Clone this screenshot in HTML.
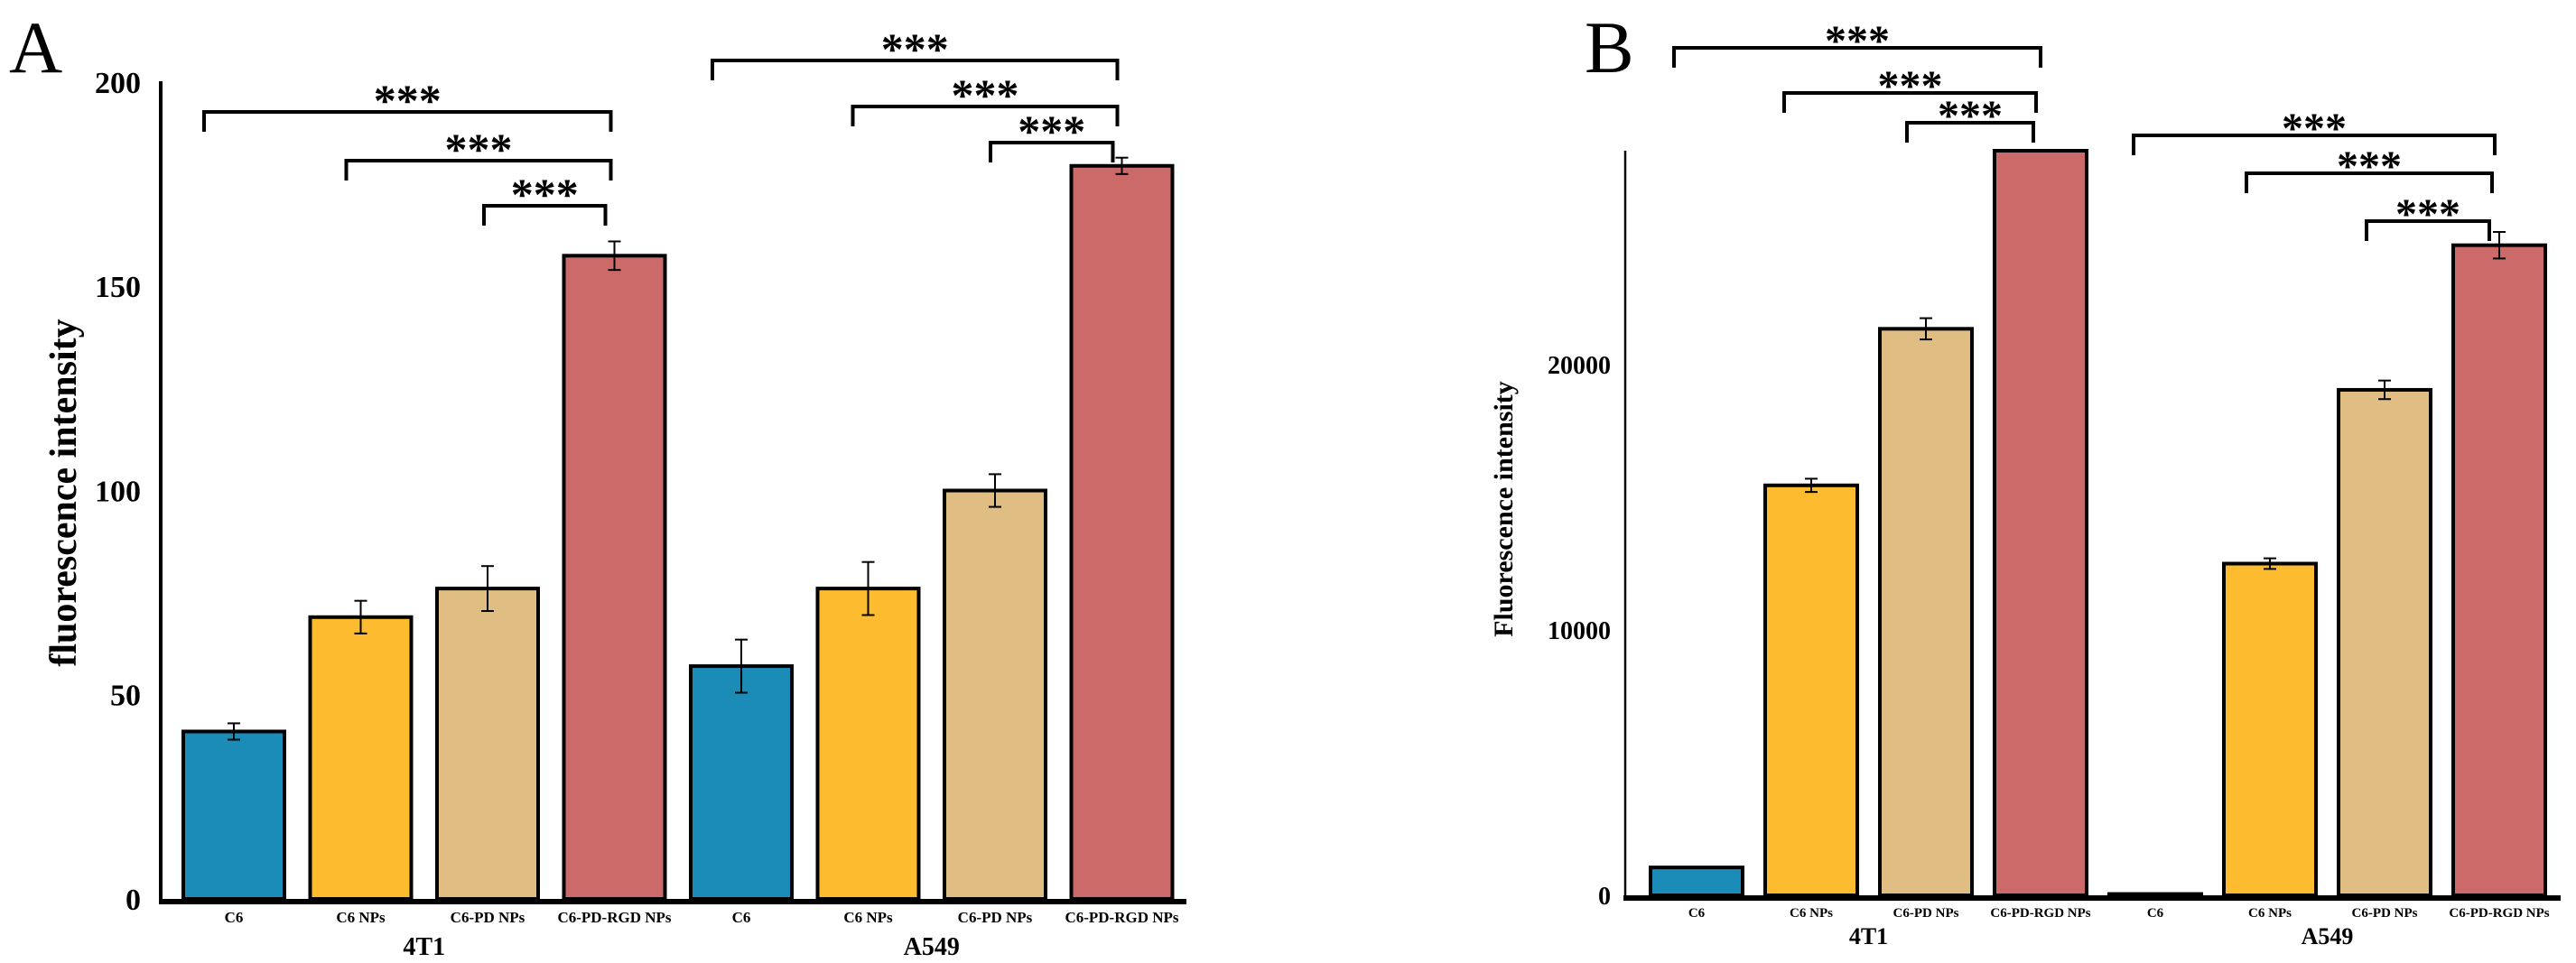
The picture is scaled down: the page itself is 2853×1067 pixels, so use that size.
<!DOCTYPE html>
<html><head><meta charset="utf-8"><style>
html,body{margin:0;padding:0;background:#fff;}
svg{display:block;font-family:"Liberation Serif",serif;}
</style></head><body>
<svg id="s" width="2853" height="1067" viewBox="0 0 2853 1067" xmlns="http://www.w3.org/2000/svg"></svg>
<script>
const categories = ["C6","C6 NPs","C6-PD NPs","C6-PD-RGD NPs","C6","C6 NPs","C6-PD NPs","C6-PD-RGD NPs"];
const groups = ["4T1","A549"];
const colors = ["#1b8bb8","#fdbb30","#e0bd82","#cc6a6a"];
const valuesA = [41,69,76,157.5,57,76,100,179.5];
const errorsA = [2,4,5.5,3.5,6.5,6.5,4,2];
const ticksA = [0,50,100,150,200];
const valuesB = [1050,15450,21350,30000,50,12500,19050,24500];
const errorsB = [0,250,400,0,0,200,350,500];
const ticksB = [0,10000,20000];
const sigA = [[0,3,"***"],[1,3,"***"],[2,3,"***"],[4,7,"***"],[5,7,"***"],[6,7,"***"]];
const sigB = [[0,3,"***"],[1,3,"***"],[2,3,"***"],[4,7,"***"],[5,7,"***"],[6,7,"***"]];
const NS="http://www.w3.org/2000/svg";
const svg=document.getElementById('s');
function mk(tag,attrs,parent){const e=document.createElementNS(NS,tag);for(const k in attrs)e.setAttribute(k,attrs[k]);(parent||svg).appendChild(e);return e;}

function chart(cfg){
  const g=mk('g',{});
  
  
  const y=v=>cfg.y0-(v-0)*cfg.ppu;
  const yc=v=>Math.max(y(v),cfg.top);
  const xc=i=>cfg.x0+cfg.step*i+cfg.bw/2;
  cfg.values.forEach((v,i)=>{
    const r=mk('rect',{x:xc(i)-cfg.bw/2,y:yc(v),width:cfg.bw,height:Math.max(cfg.y0-yc(v),0.5),fill:colors[i%4],stroke:'#000','stroke-width':cfg.bs},g);
    
    
    const e=cfg.errors[i];
    if(e>0){
      const eg=mk('g',{stroke:'#000','stroke-width':2},g);
      
      
      mk('line',{x1:xc(i),x2:xc(i),y1:y(v+e),y2:y(v-e)},eg);
      mk('line',{x1:xc(i)-7,x2:xc(i)+7,y1:y(v+e),y2:y(v+e)},eg);
      mk('line',{x1:xc(i)-7,x2:xc(i)+7,y1:y(v-e),y2:y(v-e)},eg);
    }
    const t=mk('text',{x:xc(i),y:cfg.catY,'text-anchor':'middle','font-size':cfg.catFs,'font-weight':'bold'},g);
    t.textContent=categories[i];
    
    
  });
  const ya=mk('line',{x1:cfg.axX,x2:cfg.axX,y1:cfg.top,y2:cfg.y0,stroke:'#000','stroke-width':cfg.axW},g);
  
  
  const xa=mk('line',{x1:cfg.axX-2,x2:cfg.xEnd,y1:cfg.y0+3,y2:cfg.y0+3,stroke:'#000','stroke-width':6},g);
  
  
  cfg.ticks.forEach(v=>{
    const t=mk('text',{x:cfg.axX-cfg.tickGap,y:y(v)+cfg.tickFs*0.35,'text-anchor':'end','font-size':cfg.tickFs,'font-weight':'bold'},g);
    t.textContent=v;
    
    
  });
  groups.forEach((gn,k)=>{
    const cx=(xc(k*4)+xc(k*4+3))/2;
    const t=mk('text',{x:cx,y:cfg.grpY,'text-anchor':'middle','font-size':cfg.grpFs,'font-weight':'bold'},g);
    t.textContent=gn;
    
    
  });
  const tt=mk('text',{x:cfg.titleX,y:cfg.titleY,'text-anchor':'middle','font-size':cfg.titleFs,'font-weight':'bold',transform:`rotate(-90 ${cfg.titleX} ${cfg.titleY})`},g);
  tt.textContent=cfg.title;
  
  
  const pl=mk('text',{x:cfg.panX,y:cfg.panY,'font-size':cfg.panFs},g);
  pl.textContent=cfg.panel;
  
  
  cfg.sig.forEach((s,k)=>{
    const by=cfg.sigY[k];
    const x1=xc(s[0])+cfg.sigOff[k][0], x2=xc(s[1])+cfg.sigOff[k][1];
    const p=mk('path',{d:`M${x1},${by+22}V${by}H${x2}V${by+22}`,fill:'none',stroke:'#000','stroke-width':4},g);
    
    
    const t=mk('text',{x:(x1+x2)/2,y:by+cfg.starDy,'text-anchor':'middle','font-size':cfg.starFs,'font-weight':'bold'},g);
    t.textContent=s[2];
    
    
  });
}
chart({name:'chart-a',panel:'A',panX:10,panY:80,panFs:82,values:valuesA,errors:errorsA,ticks:ticksA,
  y0:996,ppu:4.525,top:90,x0:203,step:140.5,bw:112,bs:4,axX:178,axW:4,xEnd:1314,
  tickGap:22,tickFs:34,catY:1022,catFs:17,grpY:1058,grpFs:28,
  title:'fluorescence intensity',titleX:84,titleY:546,titleFs:42,
  sig:sigA,sigY:[124,178,228,67,118,158],
  sigOff:[[-33,-4],[-16,-4],[-4,-10],[-32,-5],[-17,-5],[-5,-10]],starFs:50,starDy:4});
chart({name:'chart-b',panel:'B',panX:1755,panY:80,panFs:82,values:valuesB,errors:errorsB,ticks:ticksB,
  y0:992,ppu:0.0294,top:167,x0:1828,step:127,bw:102,bs:4,axX:1800,axW:2.5,xEnd:2836,
  tickGap:16,tickFs:28,catY:1016,catFs:15,grpY:1046,grpFs:26,
  title:'Fluorescence intensity',titleX:1675,titleY:564,titleFs:30,
  sig:sigB,sigY:[53,103,136,150,192,245],
  sigOff:[[-25,0],[-30,-5],[-21,-8],[-24,-5],[-26,-8],[-20,-11]],starFs:48,starDy:8});
</script>
</body></html>
